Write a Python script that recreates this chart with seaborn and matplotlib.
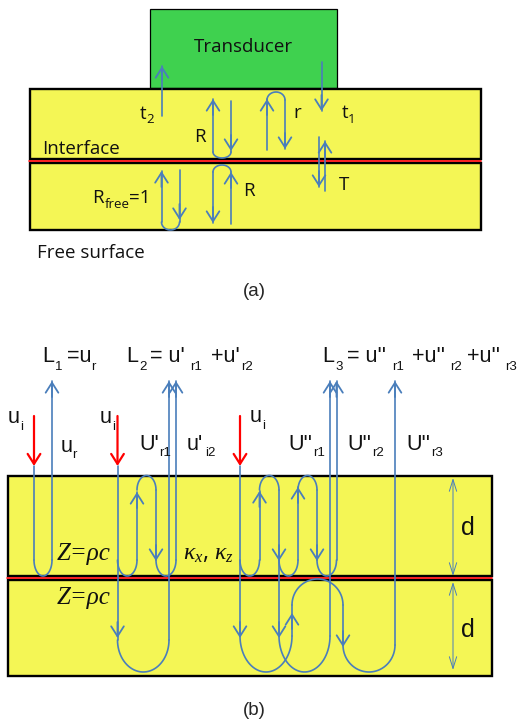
import numpy as np
import pandas as pd
import seaborn as sns
import matplotlib.pyplot as plt
from matplotlib.patches import Rectangle

BLUE = '#4a7ebb'
YELLOW = '#f4f655'
GREEN = '#3fd14f'
RED = '#ff0000'
INK = '#111111'

# boxes: left, top, right, bottom, fill
boxes = [
    (149.5, 9, 337, 88, GREEN),
    (30, 89, 480.5, 159, YELLOW),
    (30, 163, 480.5, 230, YELLOW),
    (7.5, 475.5, 492, 576, YELLOW),
    (7.5, 580, 492, 676, YELLOW),
]
red_lines = [(29, 481, 161), (7, 492, 578)]

# straight wave segments: x, y start, y end
segments = [
    # panel a
    (162, 116, 66), (321.5, 62, 111),
    (213, 152, 99), (231, 101, 152),
    (267, 150, 99), (285, 100, 149),
    (319, 137, 187), (325, 191, 141),
    (161.5, 222, 171), (179.5, 170, 222),
    (213, 172, 223), (231, 224, 172),
    # panel b, left
    (34, 466, 560), (52, 560, 381),
    (117.5, 466, 640), (169, 640, 381),
    (137, 560, 492), (156, 490, 560), (176, 560, 381),
    # panel b, right
    (240, 466, 636), (292, 636, 605), (343, 605, 645), (395, 645, 381),
    (259.5, 560, 491), (279, 490, 636), (330, 636, 381),
    (298, 560, 487), (317, 490, 560), (336.5, 560, 381),
]

# half turns: x left, x right, y of the ends, y of the peak
turns = [
    (213, 231, 152, 158), (267, 285, 100, 92),
    (161.5, 179.5, 222, 230), (213, 231, 172, 165),
    (34, 52, 560, 576), (117.5, 137, 560, 576),
    (137, 156, 490, 475.5), (156, 176, 560, 576),
    (117.5, 169, 640, 672),
    (240, 259.5, 560, 576), (259.5, 279, 490, 475.5),
    (279, 298, 560, 576), (298, 317, 490, 475.5), (317, 336.5, 560, 576),
    (240, 292, 636, 672), (279, 330, 636, 672),
    (292, 343, 605, 579), (343, 395, 645, 672),
]

# arrow heads on the waves: x, y tail, y tip
heads = [
    (162, 80, 66), (321.5, 95, 111), (213, 115, 99), (231, 135, 151),
    (267, 115, 99), (285, 133, 149), (319, 171, 187), (325, 157, 141),
    (161.5, 187, 171), (179.5, 204, 220), (213, 207, 223), (231, 188, 172),
    (52, 397, 381), (169, 397, 381), (176, 397, 381),
    (137, 508, 492), (156, 545, 561), (117.5, 622, 638),
    (330, 397, 381), (336.5, 397, 381), (395, 397, 381),
    (259.5, 507, 491), (298, 503, 487), (279, 545, 561), (317, 545, 561),
    (240, 622, 638), (279, 622, 638), (292, 629, 613), (343, 631, 647),
]
red_arrows = [(34, 416, 466), (117.5, 416, 466), (240, 416, 466)]
dims = [(453, 478, 576), (453, 582, 670)]

# text pieces: x, baseline y, string
labels_a = [
    (194, 52, 'Transducer'), (42, 154, 'Interface'), (37, 258, 'Free surface'),
    (140, 119, 't'), (342, 118, 't'), (194, 142, 'R'), (293, 118, 'r'),
    (339, 190, 'T'), (243, 196, 'R'), (92.5, 203, 'R'), (129, 203, '=1'),
]
subs_a = [(146, 123, '2'), (348, 123, '1'), (105, 208, 'free')]
labels_b = [
    (42, 362, 'L'), (67, 362, '=u'), (126, 362, 'L'), (150, 362, "= u'"),
    (211, 362, "+u'"), (322, 362, 'L'), (347, 362, "= u''"), (412, 362, "+u''"),
    (467, 362, "+u''"),
    (8, 423, 'u'), (100, 423, 'u'), (250, 422, 'u'), (61, 452, 'u'),
    (139, 450, "U'"), (187, 450, "u'"),
    (288, 450, "U''"), (347, 450, "U''"), (406, 450, "U''"),
]
subs_b = [
    (55, 370, '1'), (91, 370, 'r'), (139, 370, '2'), (190, 370, 'r1'), (241, 370, 'r2'),
    (335, 370, '3'), (392, 370, 'r1'), (450, 370, 'r2'), (505, 370, 'r3'),
    (20, 430, 'i'), (112, 430, 'i'), (262, 429, 'i'), (72, 458, 'r'),
    (159, 456, 'r1'), (205, 456, 'i2'),
    (313, 456, 'r1'), (372, 456, 'r2'), (431, 456, 'r3'),
]
labels_d = [(461, 535, 'd'), (461, 637, 'd')]
labels_z = [(57, 560), (57, 604)]
captions = [(254, 296, '(a)'), (254, 715, '(b)')]

sns.set_theme(style='white')
plt.rcParams['font.family'] = ['Open Sans', 'DejaVu Sans']
plt.rcParams['mathtext.fontset'] = 'custom'
plt.rcParams['mathtext.rm'] = 'Liberation Serif:italic'
plt.rcParams['mathtext.it'] = 'Liberation Serif:italic'

# long table of wave lines, one unit per segment or turn
rows = []
for i, (x, y0, y1) in enumerate(segments):
    rows += [('s%d' % i, x, y0), ('s%d' % i, x, y1)]
for i, (x0, x1, y_end, y_peak) in enumerate(turns):
    t = np.linspace(0, np.pi, 40)
    xs = (x0 + x1) / 2 - (x1 - x0) / 2 * np.cos(t)
    ys = y_end + (y_peak - y_end) * np.sin(t)
    rows += [('t%d' % i, a, b) for a, b in zip(xs, ys)]
waves = pd.DataFrame(rows, columns=['unit', 'x', 'y'])

fig = plt.figure(figsize=(5.18, 7.22), dpi=100)
ax = fig.add_axes([0, 0, 1, 1])

for left, top, right, bottom, fill in boxes:
    ax.add_patch(Rectangle((left, top), right - left, bottom - top, fc=fill,
                           ec='black', lw=1.7 if fill == YELLOW else 0.9, zorder=1))
for x0, x1, y in red_lines:
    ax.plot([x0, x1], [y, y], color=RED, lw=1.2, zorder=2)

sns.lineplot(data=waves, x='x', y='y', units='unit', estimator=None, sort=False,
             color=BLUE, lw=1.2, ax=ax, zorder=3, legend=False)

for x, y0, y1 in heads:
    ax.annotate('', xy=(x, y1), xytext=(x, y0), zorder=4,
                arrowprops=dict(arrowstyle='->,head_length=0.6,head_width=0.38',
                                color=BLUE, lw=1.3, shrinkA=0, shrinkB=0))
for x, y0, y1 in red_arrows:
    ax.annotate('', xy=(x, y1), xytext=(x, y0), zorder=4,
                arrowprops=dict(arrowstyle='->,head_length=0.6,head_width=0.38',
                                color=RED, lw=1.6, shrinkA=0, shrinkB=0))
for x, y0, y1 in dims:
    ax.annotate('', xy=(x, y1), xytext=(x, y0), zorder=4,
                arrowprops=dict(arrowstyle='<->,head_length=0.7,head_width=0.22',
                                color=BLUE, lw=0.7, shrinkA=0, shrinkB=0))

for x, y, s in labels_a:
    ax.text(x, y, s, fontsize=13.5, color=INK, va='baseline', zorder=5)
for x, y, s in subs_a:
    ax.text(x, y, s, fontsize=9.5, color=INK, va='baseline', zorder=5)
body = ['Liberation Sans']
for x, y, s in labels_b:
    ax.text(x, y, s, fontsize=15.5, color=INK, family=body, va='baseline', zorder=5)
for x, y, s in subs_b:
    ax.text(x, y, s, fontsize=9.5, color=INK, family=body, va='baseline', zorder=5)
for x, y, s in labels_d:
    ax.text(x, y, s, fontsize=18, color=INK, family=body, va='baseline', zorder=5)
for x, y in labels_z:
    ax.text(x, y, 'Z=ρc', fontsize=18, style='italic', color=INK,
            family=['Liberation Serif'], va='baseline', zorder=5)
ax.text(183, 560, r'$\kappa_x$, $\kappa_z$', fontsize=17, color=INK, va='baseline', zorder=5)
for x, y, s in captions:
    ax.text(x, y, s, fontsize=13.5, ha='center', family=body, va='baseline')

ax.set_xlim(0, 518)
ax.set_ylim(722, 0)
ax.set_xlabel('')
ax.set_ylabel('')
ax.axis('off')

fig.savefig('out.png', dpi=100)
